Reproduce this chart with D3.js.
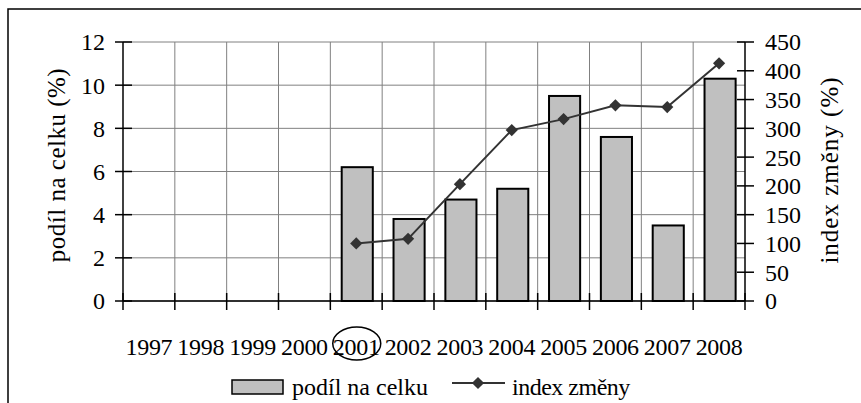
<!DOCTYPE html>
<html><head><meta charset="utf-8">
<script src="https://cdn.jsdelivr.net/npm/d3@7"></script>
<style>body{margin:0;background:#fff}svg{display:block}</style>
</head><body>
<script>
const years = ["1997","1998","1999","2000","2001","2002","2003","2004","2005","2006","2007","2008"];
const podil = [null,null,null,null,6.2,3.8,4.7,5.2,9.5,7.6,3.5,10.3];
const indexZmeny = [null,null,null,null,100,108,203,297,316,340,337,413];
const leftTicks = [0,2,4,6,8,10,12];
const rightTicks = [0,50,100,150,200,250,300,350,400,450];

const W=861,H=403;
const svg=d3.select("body").append("svg").attr("width",W).attr("height",H);
const L=123,R=745,T=42,B=301;
const x=d3.scaleBand().domain(years).range([L,R]);
const yL=d3.scaleLinear().domain([0,12]).range([B,T]);
const yR=d3.scaleLinear().domain([0,450]).range([B,T]);
const FF="'Liberation Serif'";
const fs="24px";
function txt(sel,size){return sel.style("font-family",FF).style("font-size",size||fs).attr("fill","#000");}

// outer frame
svg.append("path").attr("d",`M8,${H+2}V9H${W+2}`).attr("fill","none").attr("stroke","#000").attr("stroke-width",1.5);

// gridlines
const g=svg.append("g");
leftTicks.forEach(t=>g.append("line").attr("x1",L).attr("x2",R).attr("y1",yL(t)).attr("y2",yL(t)).attr("stroke","#808080").attr("stroke-width",1));
years.forEach((yy,i)=>{ if(i>0) g.append("line").attr("x1",x(yy)).attr("x2",x(yy)).attr("y1",T).attr("y2",B).attr("stroke","#808080").attr("stroke-width",1);});

// bars
const bw=x.bandwidth()*0.6;
svg.append("g").selectAll("rect").data(years.map((y,i)=>({y,v:podil[i]})).filter(d=>d.v!=null)).join("rect")
 .attr("x",d=>x(d.y)+x.bandwidth()/2-bw/2+1).attr("width",bw).attr("y",d=>yL(d.v)).attr("height",d=>B-yL(d.v))
 .attr("fill","#c0c0c0").attr("stroke","#000").attr("stroke-width",2);

// axes lines
svg.append("line").attr("x1",L).attr("x2",L).attr("y1",T).attr("y2",B).attr("stroke","#000").attr("stroke-width",1.5);
svg.append("line").attr("x1",R).attr("x2",R).attr("y1",T).attr("y2",B).attr("stroke","#000").attr("stroke-width",1.5);
svg.append("line").attr("x1",L).attr("x2",R).attr("y1",B).attr("y2",B).attr("stroke","#000").attr("stroke-width",1.5);

// left ticks
leftTicks.forEach(t=>{
  svg.append("line").attr("x1",L-8).attr("x2",L+9).attr("y1",yL(t)).attr("y2",yL(t)).attr("stroke","#000").attr("stroke-width",1.5);
  txt(svg.append("text").attr("x",105).attr("y",yL(t)).attr("dy","0.35em").attr("text-anchor","end")).text(t);
});
// right ticks
rightTicks.forEach(t=>{
  svg.append("line").attr("x1",R-8).attr("x2",R+9).attr("y1",yR(t)).attr("y2",yR(t)).attr("stroke","#000").attr("stroke-width",1.5);
  txt(svg.append("text").attr("x",765).attr("y",yR(t)).attr("dy","0.35em").attr("text-anchor","start")).text(t);
});
// bottom ticks & labels
years.forEach((yy,i)=>{
  svg.append("line").attr("x1",x(yy)).attr("x2",x(yy)).attr("y1",B-8).attr("y2",B+9).attr("stroke","#000").attr("stroke-width",1.5);
  txt(svg.append("text").attr("x",x(yy)+x.bandwidth()/2).attr("y",355).attr("text-anchor","middle").attr("letter-spacing","-0.3")).text(yy);
});
svg.append("line").attr("x1",R).attr("x2",R).attr("y1",B-8).attr("y2",B+9).attr("stroke","#000").attr("stroke-width",1.5);

// ellipse around 2001
svg.append("ellipse").attr("cx",x("2001")+x.bandwidth()/2+0.5).attr("cy",343.5).attr("rx",24).attr("ry",16.5).attr("fill","none").attr("stroke","#000").attr("stroke-width",1.5);

// line
const pts=years.map((y,i)=>({y,v:indexZmeny[i]})).filter(d=>d.v!=null);
svg.append("path").datum(pts).attr("d",d3.line().x(d=>x(d.y)+x.bandwidth()/2).y(d=>yR(d.v)))
 .attr("fill","none").attr("stroke","#333").attr("stroke-width",2);
const diamond=d3.symbol().type(d3.symbolDiamond2).size(95);
svg.append("g").selectAll("path").data(pts).join("path").attr("d",diamond)
 .attr("transform",d=>`translate(${x(d.y)+x.bandwidth()/2},${yR(d.v)})`).attr("fill","#333");

// axis titles
txt(svg.append("text").attr("transform","translate(56,165) rotate(-90)").attr("text-anchor","middle").attr("dy","0.35em").attr("letter-spacing","0.5"),"25px").text("podíl na celku (%)");
txt(svg.append("text").attr("transform","translate(829,170) rotate(-90)").attr("text-anchor","middle").attr("dy","0.35em").attr("letter-spacing","1"),"25px").text("index změny (%)");

// legend
svg.append("rect").attr("x",232).attr("y",380).attr("width",51).attr("height",14).attr("fill","#c0c0c0").attr("stroke","#000").attr("stroke-width",1.5);
txt(svg.append("text").attr("x",292).attr("y",395)).text("podíl na celku");
svg.append("line").attr("x1",452).attr("x2",505).attr("y1",383).attr("y2",383).attr("stroke","#333").attr("stroke-width",2);
svg.append("path").attr("d",diamond).attr("transform","translate(478,383)").attr("fill","#333");
txt(svg.append("text").attr("x",512).attr("y",395).attr("letter-spacing","-0.5")).text("index změny");
</script>
</body></html>
